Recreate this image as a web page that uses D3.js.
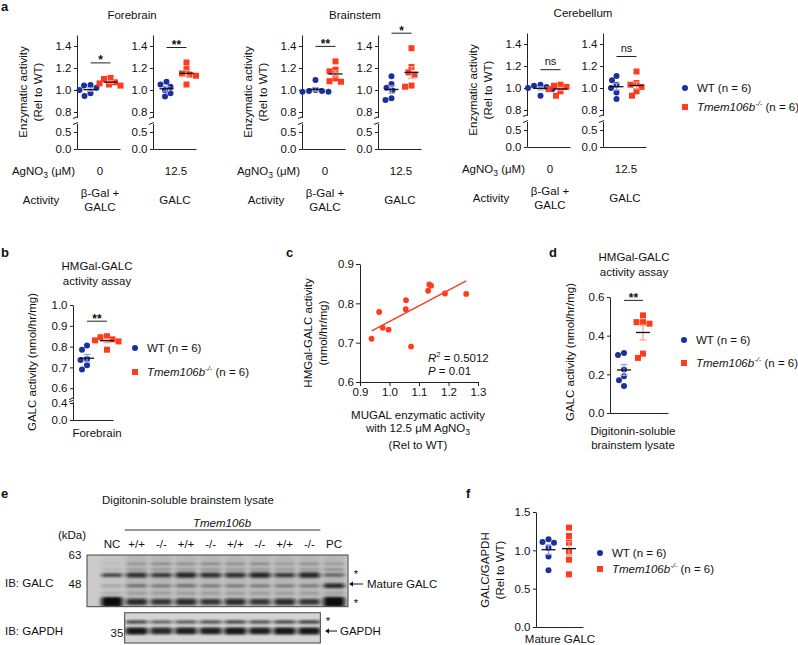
<!DOCTYPE html>
<html><head><meta charset="utf-8">
<script src="https://cdn.jsdelivr.net/npm/d3@7"></script>
<style>
body{margin:0;background:#fff}
svg{font-family:"Liberation Sans",Arial,sans-serif;}
text{fill:#111}
</style></head><body>
<script>
// ---------------- DATA ----------------
const groups = ["WT","KO"];
// Panel a (relative enzymatic activity)
const fore0WT  = [1.045,1.04,1.02,1.0,0.97,0.945];
const fore0KO  = [1.11,1.10,1.07,1.06,1.05,1.04];
const fore12WT = [1.075,1.05,1.03,1.0,0.97,0.94];
const fore12KO = [1.25,1.19,1.15,1.14,1.13,1.05];
const brain0WT = [1.09,1.0,0.99,0.99,0.985,0.985];
const brain0KO = [1.26,1.185,1.17,1.105,1.075,1.08];
const brain12WT= [1.125,1.055,1.02,0.995,0.925,0.91];
const brain12KO= [1.38,1.21,1.16,1.14,1.04,1.03];
const cere0WT  = [1.03,1.02,1.01,1.0,0.99,0.93];
const cere0KO  = [1.03,1.02,1.01,0.99,0.97,0.93];
const cere12WT = [1.11,1.07,1.03,1.0,0.96,0.90];
const cere12KO = [1.15,1.045,1.03,1.01,0.97,0.93];
const regionNames = ["Forebrain","Brainstem","Cerebellum"];
const agno3Levels = ["0","12.5"];
const activityLabels = [["β-Gal +","GALC"],["GALC"]];
const sigA = [["*","**"],["**","*"],["ns","ns"]];
const aTicksUpper = [0.8,1.0,1.2,1.4];
const aTicksLower = [0.0,0.5];
// Panel b
const bWT = [0.805,0.785,0.74,0.735,0.71,0.69];
const bKO = [0.85,0.845,0.835,0.83,0.825,0.785];
const bTicksUpper = [0.6,0.7,0.8,0.9,1.0];
const bTicksLower = [0.0,0.4];
// Panel c (scatter)
const cX = [0.939,0.965,0.977,0.997,1.056,1.055,1.073,1.131,1.135,1.141,1.188,1.26];
const cY = [0.710,0.778,0.738,0.733,0.808,0.785,0.690,0.832,0.848,0.845,0.825,0.824];
const cFitX = [0.94,1.26];
const cFitY = [0.730,0.857];
const cXTicks = [0.9,1.0,1.1,1.2,1.3];
const cYTicks = [0.6,0.7,0.8,0.9];
// Panel d
const dWT = [0.30,0.31,0.225,0.19,0.17,0.14];
const dKO = [0.505,0.47,0.47,0.462,0.307,0.285];
const dTicks = [0.0,0.2,0.4,0.6];
// Panel e (western blot, band darkness per lane 0..1)
const laneLabels = ["NC","+/+","-/-","+/+","-/-","+/+","-/-","+/+","-/-","PC"];
const galcBandKDa = [58,55,52.2,47.2,44,40.6];
const galcBandDark = [
  [0.05,0.30,0.40,0.35,0.40,0.35,0.40,0.25,0.35,0.25],
  [0.10,0.25,0.30,0.25,0.30,0.25,0.30,0.25,0.25,0.35],
  [0.70,0.80,0.75,0.85,0.80,0.80,0.85,0.75,0.85,0.55],
  [0.25,0.50,0.45,0.50,0.45,0.45,0.45,0.45,0.45,0.85],
  [0.20,0.25,0.25,0.25,0.25,0.25,0.25,0.25,0.25,0.20],
  [1.00,0.80,0.75,0.80,0.75,0.80,0.75,0.80,0.75,1.00]
];
const gapdhBandKDa = [38.8,35.7];
const gapdhBandDark = [
  [0.70,0.55,0.60,0.65,0.70,0.65,0.70,0.75],
  [0.95,0.85,0.90,0.90,0.95,0.90,0.95,0.95]
];
// Panel f
const fWT = [1.143,1.11,1.10,1.035,0.92,0.74];
const fKO = [1.296,1.187,1.10,0.987,0.878,0.687];
const fTicks = [0.0,0.5,1.0,1.5];

// ---------------- SETUP ----------------
const W=798,H=645;
const svg=d3.select("body").append("svg").attr("width",W).attr("height",H);
const BLUE="#1b2f9e", RED="#ff3b1e", LBLUE="#98a6e0", LRED="#ff9c8c", AX="#222";
const FS=11.5;

function txt(g,x,y,s,o={}){
  const t=g.append("text").attr("x",x).attr("y",y).attr("font-size",o.fs||FS)
    .attr("text-anchor",o.anchor||"start").text(s);
  if(o.bold) t.attr("font-weight","bold");
  if(o.italic) t.attr("font-style","italic");
  return t;
}
function ylab(g,lines,cy){
  lines.forEach(([s,x])=>{
    g.append("text").attr("transform",`translate(${x},${cy}) rotate(-90)`)
      .attr("text-anchor","middle").attr("dy","0.35em").attr("font-size",FS).text(s);
  });
}
function styleAxis(a){
  a.attr("font-family",null).attr("font-size",FS);
  a.selectAll("path,line").attr("stroke",AX);
  a.selectAll("text").attr("fill","#111");
}
function koText(t){
  t.append("tspan").attr("font-style","italic").text("Tmem106b");
  t.append("tspan").attr("font-style","italic").attr("font-size",7.5).attr("dy",-5).text("-/-");
  t.append("tspan").attr("dy",5).text(" (n = 6)");
}
function legend(g,x,y1,y2){
  g.append("circle").attr("cx",x).attr("cy",y1).attr("r",3).attr("fill",BLUE);
  txt(g,x+12,y1+4,"WT (n = 6)");
  g.append("rect").attr("x",x-3).attr("y",y2-3).attr("width",6).attr("height",6).attr("fill",RED);
  koText(txt(g,x+12,y2+4,""));
}
function swarm(vals,y,xc,r){
  const pts=vals.map(v=>({v,y:y(v)})).sort((a,b)=>a.y-b.y);
  const placed=[];
  pts.forEach(p=>{
    let best=0;
    for(let k=0;k<80;k++){
      const off=(k%2?-1:1)*Math.ceil(k/2)*0.5;
      if(placed.every(q=>Math.hypot(q.x-(xc+off),q.y-p.y)>=2*r+0.4)){best=off;break;}
    }
    p.x=xc+best; placed.push(p);
  });
  return pts;
}
function dotPlot(g,o){
  const x=d3.scalePoint().domain(groups).range([o.x0+o.wOff,o.x0+o.kOff]);
  const segs=o.segs.map(s=>({...s,sc:d3.scaleLinear().domain(s.domain).range(s.range)}));
  const y=v=>{const s=segs.find(s=>v>=s.domain[0]&&v<=s.domain[1])||segs[segs.length-1];return s.sc(v);};
  segs.forEach(s=>{
    const a=g.append("g").attr("transform",`translate(${o.x0},0)`)
      .call(d3.axisLeft(s.sc).tickValues(s.ticks).tickFormat(d3.format(".1f")).tickSize(3).tickSizeOuter(0).tickPadding(2.5));
    styleAxis(a);
  });
  if(segs.length>1){
    [segs[0].range[1],segs[1].range[0]].forEach(yy=>{
      g.append("line").attr("x1",o.x0-4).attr("x2",o.x0+1).attr("y1",yy+1).attr("y2",yy-1).attr("stroke",AX);
    });
  }
  const xb=d3.scaleLinear().range([o.x0,o.x0+o.len]);
  styleAxis(g.append("g").attr("transform",`translate(0,${segs[0].range[0]})`)
    .call(d3.axisBottom(xb).tickValues([]).tickSizeOuter(0)));
  const series=[{k:"WT",v:o.wt,c:BLUE,lc:LBLUE,sq:false},{k:"KO",v:o.ko,c:RED,lc:LRED,sq:true}];
  series.forEach(s=>{
    const pts=swarm(s.v,y,x(s.k),2.9);
    pts.forEach(p=>{
      if(s.sq) g.append("rect").attr("x",p.x-3).attr("y",p.y-3).attr("width",6).attr("height",6).attr("fill",s.c);
      else g.append("circle").attr("cx",p.x).attr("cy",p.y).attr("r",3).attr("fill",s.c);
    });
  });
  series.forEach(s=>{
    const m=d3.mean(s.v), se=d3.deviation(s.v)/Math.sqrt(s.v.length), xc=x(s.k);
    g.append("line").attr("x1",xc).attr("x2",xc).attr("y1",y(m-se)).attr("y2",y(m+se)).attr("stroke",s.lc).attr("stroke-width",1.2);
    [m-se,m+se].forEach(v=>g.append("line").attr("x1",xc-3.5).attr("x2",xc+3.5).attr("y1",y(v)).attr("y2",y(v)).attr("stroke",s.lc).attr("stroke-width",1.2));
    g.append("line").attr("x1",xc-7).attr("x2",xc+7).attr("y1",y(m)).attr("y2",y(m)).attr("stroke","#111").attr("stroke-width",1.3);
  });
  if(o.sig){
    const top=d3.min(o.wt.concat(o.ko).map(y));
    const ly=top-15;
    g.append("line").attr("x1",x("WT")).attr("x2",x("KO")).attr("y1",ly).attr("y2",ly).attr("stroke",AX);
    const ns=o.sig==="ns";
    txt(g,(x("WT")+x("KO"))/2,ns?ly-5:ly+1.5,o.sig,{anchor:"middle",bold:!ns,fs:ns?11:12});
  }
  return {x,y};
}

// ---------------- PANEL A ----------------
txt(svg,1,11,"a",{bold:true,fs:13});
const aData=[[fore0WT,fore0KO,fore12WT,fore12KO],[brain0WT,brain0KO,brain12WT,brain12KO],[cere0WT,cere0KO,cere12WT,cere12KO]];
const aSegs=[{domain:[0,0.75],range:[149,123.5],ticks:aTicksLower},{domain:[0.75,1.5],range:[117.5,35],ticks:aTicksUpper}];
const aTitleX=[132,355,583];
regionNames.forEach((nm,r)=>{
  const g=svg.append("g").attr("transform",`translate(0,${r===2?-2:0})`);
  const base=77+225*r;
  txt(g,aTitleX[r],19,nm,{anchor:"middle"});
  ylab(g,[["Enzymatic activity",base-54],["(Rel to WT)",base-39]],92);
  [0,1].forEach(j=>{
    const x0=base+76*j;
    dotPlot(g,{x0,len:43,wOff:13.5,kOff:33.5,segs:aSegs,wt:aData[r][2*j],ko:aData[r][2*j+1],sig:sigA[r][j]});
    txt(g,x0+23,175,agno3Levels[j],{anchor:"middle"});
    const al=activityLabels[j];
    if(al.length===2){txt(g,x0+23,197,al[0],{anchor:"middle"});txt(g,x0+23,211,al[1],{anchor:"middle"});}
    else txt(g,x0+22,204,al[0],{anchor:"middle"});
  });
  const t=txt(g,base-2,175,"AgNO",{anchor:"end"});
  t.append("tspan").attr("font-size",8.5).attr("dy",3).text("3");
  t.append("tspan").attr("dy",-3).text(" (μM)");
  txt(g,base-36,204,"Activity",{anchor:"middle"});
});
legend(svg,685,88,107);

// ---------------- PANEL B ----------------
txt(svg,1,257,"b",{bold:true,fs:13});
txt(svg,97,270,"HMGal-GALC",{anchor:"middle"});
txt(svg,97,285,"activity assay",{anchor:"middle"});
dotPlot(svg,{x0:73,len:40,wOff:14,kOff:34,
  segs:[{domain:[0,0.45],range:[420,400.9],ticks:bTicksLower},{domain:[0.55,1.0],range:[398.6,305],ticks:bTicksUpper}],
  wt:bWT,ko:bKO,sig:"**"});
ylab(svg,[["GALC activity (nmol/hr/mg)",32]],362);
txt(svg,97,437,"Forebrain",{anchor:"middle"});
legend(svg,135,348,372);

// ---------------- PANEL C ----------------
txt(svg,286,257,"c",{bold:true,fs:13});
const cx=d3.scaleLinear().domain([0.9,1.3]).range([360,478]);
const cy=d3.scaleLinear().domain([0.6,0.9]).range([382,264]);
styleAxis(svg.append("g").attr("transform","translate(360,0)").call(d3.axisLeft(cy).tickValues(cYTicks).tickFormat(d3.format(".1f")).tickSize(4).tickSizeOuter(0).tickPadding(2)));
styleAxis(svg.append("g").attr("transform","translate(0,382)").call(d3.axisBottom(cx).tickValues(cXTicks).tickFormat(d3.format(".1f")).tickSize(4).tickSizeOuter(0).tickPadding(2)));
svg.append("line").attr("x1",cx(cFitX[0])).attr("x2",cx(cFitX[1])).attr("y1",cy(cFitY[0])).attr("y2",cy(cFitY[1])).attr("stroke",RED).attr("stroke-width",1.5);
svg.append("g").selectAll("circle").data(d3.range(cX.length)).join("circle")
  .attr("cx",i=>cx(cX[i])).attr("cy",i=>cy(cY[i])).attr("r",2.9).attr("fill",RED);
{
  const t=txt(svg,428,362,"");
  t.append("tspan").attr("font-style","italic").text("R");
  t.append("tspan").attr("font-size",7.5).attr("dy",-5).text("2");
  t.append("tspan").attr("dy",5).text(" = 0.5012");
  const t2=txt(svg,428,375,"");
  t2.append("tspan").attr("font-style","italic").text("P");
  t2.append("tspan").text(" = 0.01");
}
ylab(svg,[["HMGal-GALC activity",308],["(nmol/hr/mg)",323]],333);
txt(svg,418,419,"MUGAL enzymatic activity",{anchor:"middle"});
{
  const t=txt(svg,418,432,"with 12.5 μM AgNO",{anchor:"middle"});
  t.append("tspan").attr("font-size",8.5).attr("dy",3).text("3");
}
txt(svg,418,449,"(Rel to WT)",{anchor:"middle"});

// ---------------- PANEL D ----------------
txt(svg,549,257,"d",{bold:true,fs:13});
txt(svg,634,261,"HMGal-GALC",{anchor:"middle"});
txt(svg,634,276,"activity assay",{anchor:"middle"});
dotPlot(svg,{x0:610,len:58,wOff:14,kOff:33,segs:[{domain:[0,0.6],range:[413,297],ticks:dTicks}],wt:dWT,ko:dKO,sig:"**"});
ylab(svg,[["GALC activity (nmol/hr/mg)",570]],352);
txt(svg,633,435,"Digitonin-soluble",{anchor:"middle"});
txt(svg,633,449,"brainstem lysate",{anchor:"middle"});
legend(svg,684,340,363);

// ---------------- PANEL E ----------------
txt(svg,1,498,"e",{bold:true,fs:13});
txt(svg,188,504,"Digitonin-soluble brainstem lysate",{anchor:"middle"});
const lx=d3.scalePoint().domain(d3.range(laneLabels.length)).range([112,334]);
const gy=d3.scaleLog().domain([63,48]).range([555,584]);
const py=d3.scaleLog().domain([40,35]).range([618.75,633]);
const defs=svg.append("defs");
defs.append("filter").attr("id","bl").attr("x","-30%").attr("y","-100%").attr("width","160%").attr("height","300%")
  .append("feGaussianBlur").attr("stdDeviation","2 1.3");
const gx0=lx(0)-25, gx1=lx(9)+14, gy0=gy(63), gy1=gy(38.8);
defs.append("clipPath").attr("id","cg").append("rect").attr("x",gx0).attr("y",gy0).attr("width",gx1-gx0).attr("height",gy1-gy0);
const px0=lx(1)-12, px1=lx(8)+11, py0=py(40)-6, py1=py(35)+10;
defs.append("clipPath").attr("id","cp").append("rect").attr("x",px0).attr("y",py0).attr("width",px1-px0).attr("height",py1-py0);
// GALC blot
svg.append("rect").attr("x",gx0).attr("y",gy0).attr("width",gx1-gx0).attr("height",gy1-gy0).attr("fill","#cbcbcb");
const gb=svg.append("g").attr("clip-path","url(#cg)");
laneLabels.forEach((l,i)=>{
  gb.append("rect").attr("x",lx(i)-11).attr("y",gy0).attr("width",22).attr("height",gy1-gy0)
    .attr("fill","#000").attr("opacity",i===0?0.03:0.1).attr("filter","url(#bl)");
});
const gBase=[3,3,4.5,4,3,6];
galcBandKDa.forEach((k,b)=>{
  galcBandDark[b].forEach((dk,i)=>{
    const th=gBase[b]*(0.45+1.15*Math.pow(dk,3));
    gb.append("rect").attr("x",lx(i)-10.5).attr("y",gy(k)-th/2).attr("width",21).attr("height",th).attr("rx",2)
      .attr("fill","#0a0a0a").attr("opacity",Math.min(1,dk)).attr("filter","url(#bl)");
  });
});
svg.append("rect").attr("x",gx0).attr("y",gy0).attr("width",gx1-gx0).attr("height",gy1-gy0).attr("fill","none").attr("stroke","#444");
// GAPDH blot
svg.append("rect").attr("x",px0).attr("y",py0).attr("width",px1-px0).attr("height",py1-py0).attr("fill","#d4d4d4");
const pb=svg.append("g").attr("clip-path","url(#cp)");
const pBase=[3.5,6];
gapdhBandKDa.forEach((k,b)=>{
  gapdhBandDark[b].forEach((dk,i)=>{
    const th=pBase[b]*(0.6+0.6*dk);
    pb.append("rect").attr("x",lx(i+1)-11).attr("y",py(k)-th/2).attr("width",22).attr("height",th).attr("rx",2)
      .attr("fill","#0a0a0a").attr("opacity",dk).attr("filter","url(#bl)");
  });
});
svg.append("rect").attr("x",px0).attr("y",py0).attr("width",px1-px0).attr("height",py1-py0).attr("fill","none").attr("stroke","#444");
// labels
txt(svg,222,527,"Tmem106b",{anchor:"middle",italic:true});
svg.append("line").attr("x1",px0).attr("x2",px1).attr("y1",530).attr("y2",530).attr("stroke","#333");
laneLabels.forEach((l,i)=>txt(svg,lx(i),548,l,{anchor:"middle"}));
txt(svg,72,539,"(kDa)",{anchor:"middle"});
txt(svg,75,559,"63",{anchor:"middle"});
txt(svg,75,588,"48",{anchor:"middle"});
txt(svg,117,637,"35",{anchor:"middle"});
txt(svg,5,587,"IB: GALC");
txt(svg,5,635,"IB: GAPDH");
function arrow(x1,x2,y){
  svg.append("line").attr("x1",x1+2).attr("x2",x2).attr("y1",y).attr("y2",y).attr("stroke","#111").attr("stroke-width",1);
  svg.append("path").attr("d",`M${x1},${y}l4,-2.5v5z`).attr("fill","#111");
}
txt(svg,356,578,"*",{anchor:"middle"});
txt(svg,356,607,"*",{anchor:"middle"});
arrow(349,363,584); txt(svg,367,588,"Mature GALC");
txt(svg,328,625,"*",{anchor:"middle"});
arrow(325,337,631); txt(svg,340,635,"GAPDH");

// ---------------- PANEL F ----------------
txt(svg,466,498,"f",{bold:true,fs:13});
dotPlot(svg,{x0:536,len:47,wOff:12.5,kOff:33,segs:[{domain:[0,1.5],range:[627,512],ticks:fTicks}],wt:fWT,ko:fKO,sig:null});
ylab(svg,[["GALC/GAPDH",485],["(Rel to WT)",500]],570);
txt(svg,560,643,"Mature GALC",{anchor:"middle"});
legend(svg,600,553,569);
</script></body></html>
